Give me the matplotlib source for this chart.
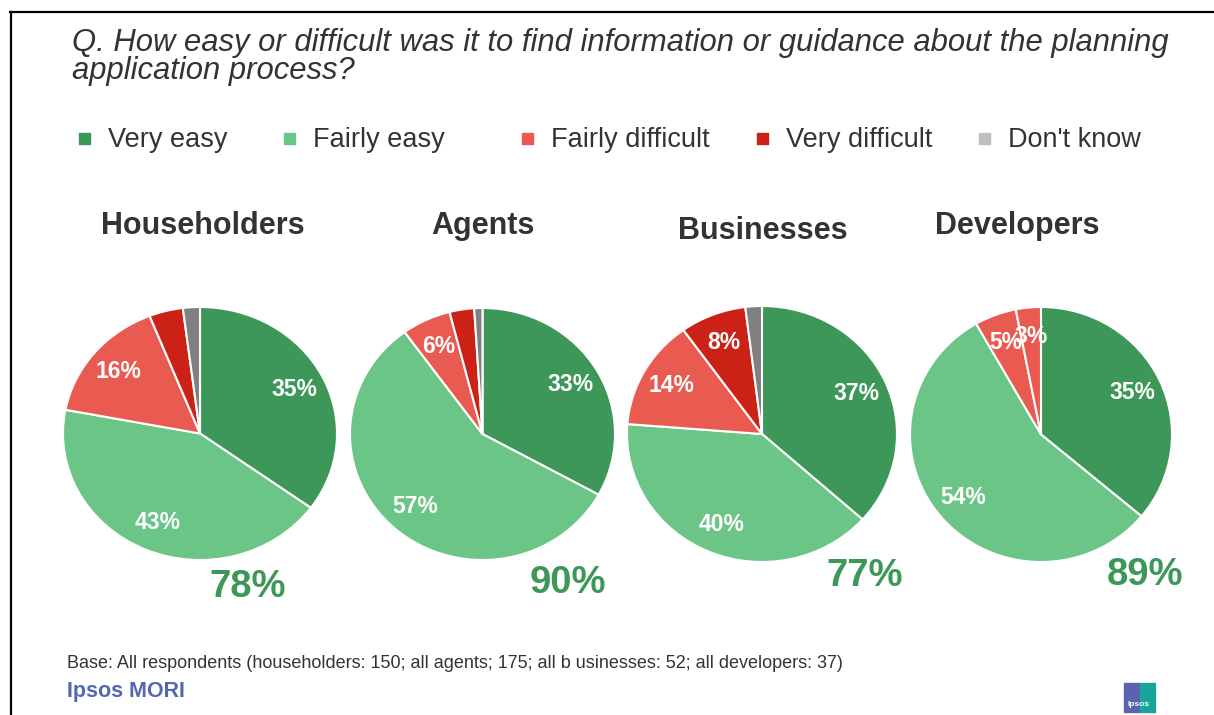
import numpy as np
import matplotlib
matplotlib.use('Agg')
import matplotlib.pyplot as plt
from matplotlib.patches import Rectangle
from matplotlib.lines import Line2D

plt.rcParams['font.family'] = ['Liberation Sans', 'DejaVu Sans']

# Dữ liệu
categories = ['Very easy', 'Fairly easy', 'Fairly difficult', 'Very difficult', "Don't know"]
groups = ['Householders', 'Agents', 'Businesses', 'Developers']
householders = [35, 43, 16, 4, 2]
agents = [33, 57, 6, 3, 1]
businesses = [37, 40, 14, 8, 2]
developers = [35, 54, 5, 3]
easy_totals = ['78%', '90%', '77%', '89%']
slice_labels = [
    ['35%', '43%', '16%', '', ''],
    ['33%', '57%', '6%', '', ''],
    ['37%', '40%', '14%', '8%', ''],
    ['35%', '54%', '5%', '3%'],
]
values = [householders, agents, businesses, developers]

col = {'Very easy': '#3C9759', 'Fairly easy': '#6BC587',
       'Fairly difficult': '#E95B51', 'Very difficult': '#CB2116',
       "Don't know": '#808080'}
legend_col = dict(col)
legend_col["Don't know"] = '#BFBFBF'
# developers: the 3% slice is drawn in the same light red as in the original
slice_colors = [
    [col[c] for c in categories],
    [col[c] for c in categories],
    [col[c] for c in categories],
    [col['Very easy'], col['Fairly easy'], col['Fairly difficult'], col['Fairly difficult']],
]

W, H = 1214, 715
fig = plt.figure(figsize=(W / 100, H / 100), dpi=100)

# khung
fig.add_artist(Line2D([10 / W, 1], [1 - 12 / H, 1 - 12 / H], color='black', lw=1.6))
fig.add_artist(Line2D([11 / W, 11 / W], [0, 1 - 12 / H], color='black', lw=1.6))

title_lines = ['Q. How easy or difficult was it to find information or guidance about the planning',
               'application process?']
for y, line in zip([43, 71], title_lines):
    fig.text(72 / W, 1 - y / H, line, fontsize=22.3, style='italic', color='#333333', va='center')

# chú thích
sq_x = [85, 290, 528, 763, 985]
for x, c in zip(sq_x, categories):
    fig.add_artist(Rectangle(((x - 6) / W, 1 - 144 / H), 11 / W, 11 / H, color=legend_col[c],
                             transform=fig.transFigure))
    fig.text((x + 23) / W, 1 - 140 / H, c, fontsize=19.5, color='#333333', va='center')

# vị trí các biểu đồ tròn (tâm x, tâm y, bán kính x, bán kính y)
pos = [(200, 433.5, 137, 126.5), (482.5, 434, 132.5, 126), (762, 434, 135, 128), (1041, 434.5, 131, 127.5)]
title_pos = [(203, 226), (483, 226), (763, 231), (1017, 226)]
total_pos = [(248, 587), (568, 583), (865, 576), (1145, 575)]

for i, g in enumerate(groups):
    cx, cy, rx, ry = pos[i]
    ax = fig.add_axes([(cx - rx) / W, 1 - (cy + ry) / H, 2 * rx / W, 2 * ry / H])
    wedges, texts = ax.pie(values[i], colors=slice_colors[i], startangle=90, counterclock=False,
                           labels=slice_labels[i], labeldistance=0.77,
                           wedgeprops=dict(edgecolor='white', linewidth=1.5),
                           textprops=dict(color='white', fontsize=16.5, fontweight='bold'))
    for t in texts:
        t.set_ha('center')
        t.set_va('center')
    ax.set_aspect('auto')
    ax.set_xlim(-1, 1)
    ax.set_ylim(-1, 1)
    ax.axis('off')
    tx, ty = title_pos[i]
    fig.text(tx / W, 1 - ty / H, g, fontsize=22, fontweight='bold', color='#333333', ha='center', va='center')
    px, py = total_pos[i]
    fig.text(px / W, 1 - py / H, easy_totals[i], fontsize=27.5, fontweight='bold', color='#3C9759',
             ha='center', va='center')

fig.text(67 / W, 1 - 663 / H, 'Base: All respondents (householders: 150; all agents; 175; all b usinesses: 52; all developers: 37)',
         fontsize=13, color='#333333', va='center')
fig.text(67 / W, 1 - 692 / H, 'Ipsos MORI', fontsize=15.5, fontweight='bold', color='#5468B0', va='center')

# logo
fig.add_artist(Rectangle((1124 / W, 1 - 712 / H), 16 / W, 29 / H, color='#5A63B0', transform=fig.transFigure))
fig.add_artist(Rectangle((1140 / W, 1 - 712 / H), 15 / W, 29 / H, color='#1AA59A', transform=fig.transFigure))
fig.text(1139 / W, 1 - 705 / H, 'Ipsos', fontsize=6, color='white', fontweight='bold', ha='center', va='center')

fig.savefig('out.png', dpi=100)
